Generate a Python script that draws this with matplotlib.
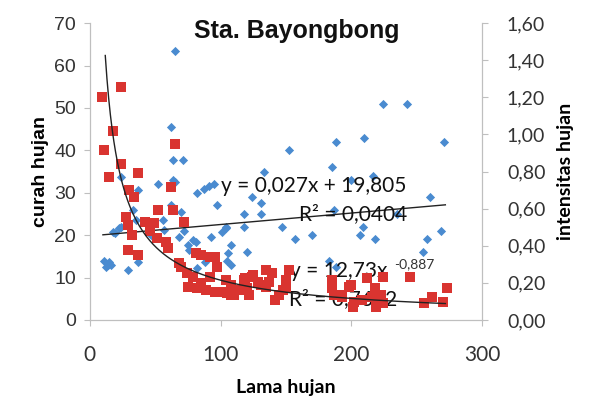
import numpy as np
import matplotlib.pyplot as plt

# curah hujan (left axis) vs lama hujan
blue_x = [65, 62, 64, 71, 64, 52, 24, 37, 62, 70, 56, 33,
          152, 133, 224, 243, 188, 210, 271, 185, 200, 217, 260, 235, 269, 170, 207, 209, 218, 258, 255, 187, 183, 188,
          157, 147, 82, 87, 91, 95, 97, 124, 131, 118, 131, 118, 104,
          65, 35, 24, 19, 81, 93, 101, 104, 75, 108, 120, 106, 105, 108, 11, 14, 15, 29, 37, 82, 88,
          18, 22, 28, 47, 57, 68, 72, 79, 76, 12, 16]
blue_y = [63.5, 45.5, 37.7, 37.7, 33, 32, 33.7, 30.6, 27, 25.5, 23.6, 26,
          40, 35, 51, 51, 42, 43, 42, 36, 33, 34, 29, 25, 21, 20, 20, 22, 19, 19, 16, 26, 14, 12.5,
          19, 22, 30, 31, 31.6, 32, 27, 29, 27.6, 25, 25, 22, 22,
          32.5, 23.6, 22, 20.5, 18.4, 19.6, 20.8, 21.7, 17.7, 17.7, 16, 15.8, 14, 13, 14, 13, 13.7, 11.8, 13.7, 12.3, 13.7,
          20.7, 21.7, 22.4, 20, 21.2, 19.6, 21, 18.9, 16.5, 12.5, 13]

# intensitas hujan (right axis) vs lama hujan
red_x = [24, 9, 18, 11, 24, 65, 15, 37, 30, 34, 62, 28, 52, 64, 29, 42, 49, 72,
         32, 46, 51, 58, 60, 29, 37, 81, 85, 92, 96, 68, 70, 74, 79, 97, 75, 82, 89, 96, 104, 108, 108,
         120, 122, 119, 124, 135, 137, 142, 129, 150, 152,
         85, 101, 105, 110, 92, 118, 125, 139, 131, 135, 116, 145,
         148, 150, 185, 185, 187, 200, 192, 202, 208, 212, 218, 222, 224, 245, 256, 262, 270, 273,
         224, 223, 193, 198, 201, 216, 219]
red_y = [1.257, 1.202, 1.019, 0.914, 0.841, 0.949, 0.770, 0.793, 0.699, 0.663, 0.718, 0.555, 0.594, 0.594, 0.512, 0.526, 0.523, 0.526,
         0.457, 0.480, 0.441, 0.421, 0.389, 0.377, 0.350, 0.361, 0.350, 0.341, 0.341, 0.306, 0.286, 0.251, 0.229, 0.286, 0.178, 0.171, 0.160, 0.151, 0.215, 0.190, 0.135,
         0.171, 0.135, 0.226, 0.231, 0.270, 0.206, 0.107, 0.206, 0.171, 0.270,
         0.199, 0.151, 0.146, 0.135, 0.229, 0.215, 0.242, 0.251, 0.190, 0.178, 0.160, 0.135,
         0.160, 0.215, 0.215, 0.171, 0.135, 0.190, 0.135, 0.096, 0.107, 0.226, 0.171, 0.096, 0.231, 0.231, 0.091, 0.123, 0.096, 0.171,
         0.091, 0.135, 0.123, 0.178, 0.071, 0.123, 0.071]

lin_a, lin_b = 0.027, 19.805
pow_a, pow_b = 12.73, -0.887

x_ticks = [0, 100, 200, 300]
left_ticks = [0, 10, 20, 30, 40, 50, 60, 70]
right_ticks = [0.0, 0.2, 0.4, 0.6, 0.8, 1.0, 1.2, 1.4, 1.6]

grey = "#bfbfbf"

fig = plt.figure(figsize=(5.95, 4.07), dpi=100)
ax = fig.add_axes([0.151, 0.214, 0.659, 0.729])
ax2 = ax.twinx()

ax.scatter(blue_x, blue_y, marker="D", s=22, color="#4a8bd0", linewidths=0, zorder=2)
ax2.scatter(red_x, red_y, marker="s", s=46, color="#d93430", linewidths=0, zorder=2)

# trendlines from the equations shown on the chart
xl = np.linspace(10, 272, 50)
ax.plot(xl, lin_a * xl + lin_b, color="#222222", lw=1.0, zorder=3)
xp = np.linspace(11.8, 272, 200)
ax2.plot(xp, pow_a * xp ** pow_b, color="#222222", lw=1.0, zorder=3)

ax.set_xlim(0, 300)
ax.set_ylim(0, 70)
ax2.set_ylim(0, 1.6)
ax.set_xticks(x_ticks)
ax.set_yticks(left_ticks)
ax2.set_yticks(right_ticks)
ax2.set_yticklabels([f"{v:.2f}".replace(".", ",") for v in right_ticks],
                    fontfamily="Lato", fontsize=14)
ax.set_xticklabels([str(v) for v in x_ticks], fontfamily="Lato", fontsize=15)
ax.set_yticklabels([str(v) for v in left_ticks], fontfamily="Liberation Sans", fontsize=14)

for a in (ax, ax2):
    a.spines["top"].set_visible(False)
    for s in ("left", "right", "bottom"):
        a.spines[s].set_color(grey)
    a.tick_params(colors=grey, length=4, labelcolor="#333333")
ax.tick_params(axis="x", pad=14)
ax2.tick_params(axis="y", pad=14)
ax.tick_params(axis="y", pad=6)

ax.set_xlabel("Lama hujan", fontfamily="Lato", fontweight="bold", fontsize=14, labelpad=10)
ax.set_ylabel("curah hujan", fontfamily="Liberation Sans", fontweight="bold", fontsize=14, labelpad=4)
ax2.set_ylabel("intensitas hujan", fontfamily="Lato", fontweight="bold", fontsize=14, labelpad=8)

fig.text(0.498, 0.925, "Sta. Bayongbong", ha="center", va="center",
         fontfamily="Liberation Sans", fontweight="bold", fontsize=18, color="#111111")

tkw = dict(fontfamily="Lato", fontsize=15, color="#111111", zorder=4)
ax.text(100, 31.5, "y = 0,027x + 19,805", ha="left", va="center", **tkw)
ax.text(160, 25.0, "R² = 0,0404", ha="left", va="center", **tkw)
ax.text(153, 11.6, "y = 12,73x", ha="left", va="center", **tkw)
ax.text(233, 13.2, "-0,887", ha="left", va="center", fontfamily="Lato", fontsize=10,
        color="#333333", zorder=4)
ax.text(152, 5.0, "R² = 0,7622", ha="left", va="center", **tkw)

fig.savefig("out.png", dpi=100)
